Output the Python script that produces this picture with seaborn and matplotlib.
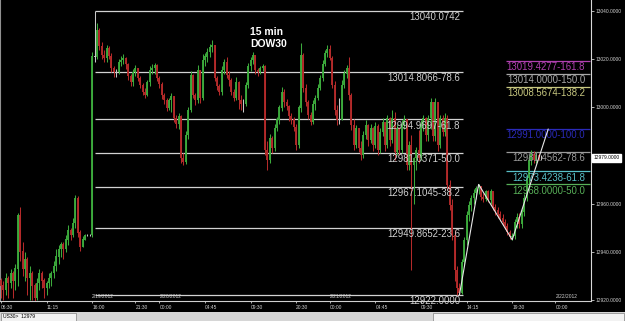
import numpy as np
import pandas as pd
import matplotlib
matplotlib.use("Agg")
import matplotlib.pyplot as plt
import matplotlib.transforms as mtransforms
from matplotlib.patches import Rectangle
import seaborn as sns

# ---------------- data ----------------
open0 = 12928.0
closes = [
    12926, 12924, 12929, 12927, 12931, 12928, 12933, 12955, 12940, 12933,
    12937, 12929, 12931, 12926, 12921, 12927, 12931, 12928, 12925, 12927,
    12929, 12931, 12934, 12938, 12941, 12943, 12941, 12945, 12949, 12947,
    12952, 12962, 12948, 12942, 12945, 12947, 12947, 12947, 13021, 13021,
    13032, 13025.5, 13021.7, 13020.5, 13024.6, 13021.3, 13016.3, 13014.7, 13014.7, 13018.8,
    13019.7, 13020.5, 13018, 13013, 13010.5, 13014.7, 13016.3, 13012.2, 13009.3, 13006.4,
    13005.1, 13010.5, 13015.5, 13016.3, 13017.6, 13012.2, 13009.7, 13005.1, 13003.1, 12999.8,
    13003.1, 13004.7, 12995.6, 12993.1, 12996.4, 12979, 12977.3, 12988.5, 12998.9, 13013.4,
    13005.1, 13003.1, 13015.5, 13004, 13019.7, 13021, 13023, 13025, 13025.9, 13012.2,
    13008.9, 13006.4, 13015.5, 13018.8, 13013.4, 13011.4, 13006.4, 13003.9, 13010.5, 13003.1,
    13001.4, 13001.4, 13009.3, 13017.2, 13019.7, 13021.7, 13015.5, 13014.7, 13016.3, 13017.2,
    12982.3, 12978.1, 12987.3, 12983.1, 12991.4, 12994.8, 12999.8, 13006.4, 13002.2, 13000.6,
    12996.4, 12994.8, 12991.8, 12984.4, 12999.8, 13021.7, 13008, 13002.2, 12996.8, 12993.9,
    13001.4, 13003.9, 13008, 13012.2, 13018, 13022.6, 13024.2, 13020.5, 13009.3, 12998.9,
    12994.8, 12994.8, 13009.3, 13013.9, 13016.3, 13005.1, 12992.7, 12984.4, 12991.4, 12983.1,
    12980.2, 12988.5, 12992.7, 12986.4, 12991.4, 12984.4, 12992.3, 12982.3, 12989.8, 12993.9,
    12984.4, 12995.6, 12986.4, 12995.6, 12981.5, 12991.4, 12982.3, 12993.1, 12994.8, 12976.1,
    12984.4, 12976.1, 12979, 12982.3, 12979, 12993.1, 12995.6, 12988.5, 12995.6, 13002.2,
    12988, 13002.2, 12984.4, 12995.6, 12989.8, 12995.6, 12967.8, 12959.5, 12947, 12932.5,
    12925, 12922.9, 12935.8, 12944.9, 12955.3, 12959.5, 12962.4, 12964.4, 12966.5, 12967.3,
    12962.8, 12962, 12964.9, 12961.5, 12964.9, 12958.6, 12957.4, 12955.7, 12954, 12952.4,
    12950.7, 12948.2, 12946.2, 12946.6, 12952.4, 12954.5, 12951.6, 12956.5, 12962.4, 12970.7,
    12978.1, 12980.6, 12978.1, 12980.2, 12979, 12979,
]
highs = [
    12929, 12928, 12931, 12930, 12933, 12932, 12935, 12956, 12958.5, 12944,
    12940, 12938, 12934, 12932, 12927, 12929, 12933, 12932, 12929, 12928,
    12931, 12932, 12936, 12941, 12943, 12944, 12944, 12947, 12951, 12950,
    12954, 12963.5, 12963, 12949, 12946.5, 12947.5, 12947.3, 12947.3, 13023, 13040.07,
    13035, 13033, 13027, 13024, 13026, 13025.5, 13022.5, 13017, 13016, 13020,
    13021.5, 13022, 13021, 13018.5, 13014, 13016, 13017.5, 13016.5, 13013, 13010,
    13008, 13011.5, 13017, 13018, 13018.4, 13018, 13013, 13010.5, 13006, 13004,
    13004, 13006, 13004.5, 12997, 12997.5, 12997, 12981, 12990, 13000, 13015,
    13014, 13006, 13017.5, 13014, 13022, 13022.5, 13024.5, 13026.5, 13028, 13025.5,
    13013, 13009.5, 13017, 13020, 13021, 13015, 13012, 13007.5, 13012.5, 13011,
    13005, 13003.5, 13010.5, 13018.5, 13021, 13023, 13021.5, 13016.5, 13017, 13018,
    13017.5, 12986, 12989, 12988, 12993, 12996, 13001, 13008.5, 13007.5, 13003.5,
    13001, 12997.5, 12996, 12993, 13001, 13026.7, 13022.5, 13009.5, 13003, 12998,
    13003, 13005, 13009.5, 13013.5, 13019.5, 13024, 13026, 13026, 13021.5, 13011,
    13001, 13004, 13011.4, 13015.5, 13017.5, 13021, 13006, 12995, 12992.7, 12990.6,
    12986, 12990, 12994.8, 12993, 12993, 12992, 12994, 12993, 12991.4, 12995.5,
    12994, 12997, 12996, 12998.9, 12998, 12993, 12992, 12994.8, 12996.8, 12995,
    12986, 12988.5, 12979.5, 12983.5, 12990.6, 12994.8, 12996.8, 12996, 12996.8, 13004,
    13002, 13003.7, 13000, 12996.8, 12997, 12997.5, 12996.8, 12970, 12962, 12949,
    12934, 12927, 12937, 12946, 12957, 12961, 12963.6, 12966, 12967.3, 12968,
    12967.5, 12964.5, 12965.7, 12965.5, 12966, 12965, 12960, 12958.5, 12957, 12955.5,
    12953.5, 12952, 12949, 12948, 12953.5, 12956, 12956, 12957.8, 12964, 12972,
    12980.2, 12982.3, 12982, 12981.5, 12981, 12980,
]
lows = [
    12921, 12920, 12922, 12921, 12925, 12921, 12924, 12926, 12936, 12930,
    12928, 12922, 12920, 12920, 12918.8, 12920, 12924, 12925, 12921, 12922,
    12925, 12926, 12929, 12932, 12935, 12938, 12937, 12940, 12943, 12945,
    12946, 12950, 12946, 12940.5, 12942, 12946.5, 12946.7, 12946.7, 12946, 13019,
    13020, 13024, 13020, 13019, 13019, 13020, 13014.5, 13012.5, 13012.5, 13014,
    13017, 13018, 13016, 13011.5, 13009, 13009, 13013, 13011, 13008, 13005,
    13003.9, 13004.5, 13009, 13014, 13014, 13011, 13008, 13003.5, 13001.5, 12998.5,
    12999, 12998, 12994, 12991.5, 12991, 12977, 12976, 12976.5, 12987, 12998,
    13004, 13001, 13002, 13002, 13003, 13017, 13019, 13021, 13023, 13011,
    13007, 13005, 13005, 13014, 13012, 13009, 13005, 13002.5, 13003, 12999.5,
    12999, 12998, 13000.5, 13008, 13015, 13018, 13014, 13013, 13014, 13015,
    12980, 12974, 12977, 12981, 12982, 12990, 12993, 12998.5, 13000, 12999,
    12994.5, 12993, 12990, 12982.3, 12983, 12998, 13006.5, 13000.5, 12995, 12992.7,
    12993, 12999, 13003, 13007, 13011, 13017, 13021, 13019.5, 13008, 12997,
    12992.7, 12993, 12996, 13008, 13012, 13003, 12990.5, 12982.3, 12983, 12981.5,
    12978, 12979, 12987, 12984, 12985, 12982, 12983, 12980, 12981, 12988,
    12982, 12983, 12984, 12985, 12978, 12980, 12980, 12981, 12991, 12974,
    12974, 12932.5, 12960, 12974, 12977, 12978, 12990, 12986, 12986, 12991,
    12986, 12986, 12982, 12983, 12988, 12988, 12965.7, 12957.4, 12944.9, 12928,
    12922, 12922.0, 12922.5, 12934, 12943, 12953, 12957, 12960, 12962, 12964,
    12961.5, 12960.5, 12961, 12960.5, 12960, 12957.4, 12955.3, 12954, 12953, 12951,
    12949.5, 12947, 12945.3, 12945.0, 12945.5, 12950, 12950, 12950, 12955, 12961,
    12968, 12976, 12977, 12977, 12978, 12978,
]

tick_bars = [0, 19, 38, 56, 66, 85, 104, 123, 137, 156, 175, 194, 213, 231]
tick_labels = ["06:30", "11:15", "16:00", "21:30", "00:00", "04:45", "09:30",
               "20:30", "00:00", "04:45", "09:30", "14:15", "19:30", "00:00"]
date_bars = [38, 66, 137, 231]
date_labels = ["2/19/2012", "2/20/2012", "2/21/2012", "2/22/2012"]

fib_levels = [13040.0742, 13014.8066, 12994.9697, 12981.0371, 12967.1045, 12949.8652, 12922.0]
fib_ratios = ["", "78.6", "61.8", "50.0", "38.2", "23.6", ""]

ext_levels = [13019.4277, 13014.0, 13008.5674, 12991.0, 12981.4562, 12973.4238, 12968.0]
ext_ratios = ["161.8", "150.0", "138.2", "100.0", "78.6", "61.8", "50.0"]
ext_colors = ["#b040b0", "#a8a8a8", "#c8c880", "#2a2ab8", "#9a9a9a", "#58c0c8", "#58b058"]

zz_bars = [191, 199, 213, 228]
zz_prices = [12922.0, 12968.0, 12945.0, 12991.0]

ytick_values = [12920, 12940, 12960, 12980, 13000, 13020, 13040]
current_price = 12979.0
symbol_text = "US30>  12979"

# ---------------- frame ----------------
n = len(closes)
opens = [open0] + closes[:-1]
df = pd.DataFrame({"bar": np.arange(n), "open": opens, "close": closes,
                   "high": highs[:n], "low": lows[:n]})
df["top"] = df[["open", "close"]].max(axis=1)
df["bot"] = df[["open", "close"]].min(axis=1)
df["high"] = np.maximum(df["high"], df["top"])
df["low"] = np.minimum(df["low"], df["bot"])
UP, DOWN, FLAT = "#3caa3c", "#b42a2a", "#c8c8c8"
df["color"] = np.where(df["close"] > df["open"], UP,
                       np.where(df["close"] < df["open"], DOWN, FLAT))

sns.set_theme(style="dark", rc={
    "axes.facecolor": "black", "figure.facecolor": "black",
    "axes.edgecolor": "#d0d0d0", "axes.grid": False,
    "xtick.color": "#d0d0d0", "ytick.color": "#d0d0d0",
})
LF = ["Liberation Sans", "DejaVu Sans"]

W, H = 625, 321
fig = plt.figure(figsize=(W / 100, H / 100), dpi=100)
ax = fig.add_axes([0, 20 / H, 591 / W, 301 / H])
ax.set_facecolor("black")

# candles
ax.vlines(df["bar"], df["low"], df["high"], colors=df["color"], lw=0.75, zorder=3)
ax.vlines(df["bar"], df["bot"], df["top"] + 0.15, colors=df["color"], lw=1.35, zorder=3)

# main fibonacci retracement
fib_x0, fib_x1, fib_lab = 39.2, 192.5, 191.3
ax.hlines(fib_levels, fib_x0, fib_x1, colors="#d2d2d2", lw=0.9, zorder=2)
for lv, r in zip(fib_levels, fib_ratios):
    txt = f"{lv:.4f}" + (f"-{r}" if r else "")
    ax.annotate(txt, xy=(fib_lab, lv), xytext=(0, -0.9), textcoords="offset points",
                ha="right", va="top", fontsize=6.9, family=LF, color="#cfcfcf",
                annotation_clip=False, zorder=4)

# fibonacci expansion
ext_x0, ext_x1, ext_lab = 210.4, 245.4, 243.4
for lv, r, c in zip(ext_levels, ext_ratios, ext_colors):
    ax.hlines(lv, ext_x0, ext_x1, colors=c, lw=0.9, zorder=2)
    ax.annotate(f"{lv:.4f}-{r}", xy=(ext_lab, lv), xytext=(0, -0.9),
                textcoords="offset points", ha="right", va="top", fontsize=6.9,
                family=LF, color=c, annotation_clip=False, zorder=4)

# zigzag pattern
zz = pd.DataFrame({"bar": zz_bars, "price": zz_prices})
sns.lineplot(data=zz, x="bar", y="price", sort=False, color="#e8e8e8", lw=0.8,
             ax=ax, zorder=5)

# axes
ax.set_xlim(-0.42, 245.83)
ax.set_ylim(12919.58, 13044.57)
ax.set_xlabel("")
ax.set_ylabel("")
ax.yaxis.tick_right()
ax.set_yticks(ytick_values)
ylabels = ["" if v == round(current_price, -1) else f"{v:.4f}" for v in ytick_values]
ax.set_yticklabels(ylabels, fontsize=3.5, family=LF, color="#d0d0d0")
ax.tick_params(axis="y", which="major", right=True, left=False, length=2.2, width=0.6,
               pad=1.4, colors="#d0d0d0")
ax.set_xticks(tick_bars)
ax.set_xticklabels(tick_labels, fontsize=3.5, family=LF, color="#d0d0d0")
for lbl in ax.get_xticklabels():
    lbl.set_ha("left")
ax.tick_params(axis="x", which="major", bottom=True, length=1.5, width=0.6, pad=1.5,
               colors="#d0d0d0")
ax.spines["top"].set_visible(False)
ax.spines["right"].set_color("#d8d8d8")
ax.spines["right"].set_linewidth(0.8)
ax.spines["bottom"].set_color("#d0d0d0")
ax.spines["bottom"].set_linewidth(0.8)
ax.spines["left"].set_color("#909090")
ax.spines["left"].set_linewidth(0.8)

# date labels
tr = mtransforms.blended_transform_factory(ax.transData, ax.transAxes)
for b, d in zip(date_bars, date_labels):
    ax.text(b, 0.006, d, transform=tr, ha="left", va="bottom", fontsize=3.5,
            family=LF, color="#d0d0d0", zorder=4)

# title
ax.text(250 / 591, 1 - 27 / 301, "15 min", transform=ax.transAxes, ha="left", va="top",
        fontsize=7.5, fontweight="bold", family=LF, color="white")
ax.text(250 / 591, 1 - 39 / 301, "DOW30", transform=ax.transAxes, ha="left", va="top",
        fontsize=7.5, fontweight="bold", family=LF, color="white")

# current price box
trp = mtransforms.blended_transform_factory(ax.transAxes, ax.transData)
ax.text(1.004, current_price, f"{current_price:.4f}", transform=trp, ha="left",
        va="center", fontsize=3.5, family=LF, color="black", zorder=6, clip_on=False,
        bbox=dict(boxstyle="square,pad=0.25", fc="white", ec="white"))

# status bar
fig.patches.append(Rectangle((0, 0), 1, 9.5 / H, transform=fig.transFigure,
                             fc="#d6d6d6", ec="none", zorder=0))
fig.patches.append(Rectangle((0.5 / W, 0.5 / H), 75 / W, 8 / H, transform=fig.transFigure,
                             fc="#f2f2f2", ec="#808080", lw=0.5, zorder=1))
fig.patches.append(Rectangle((433 / W, 0.5 / H), 191 / W, 8 / H, transform=fig.transFigure,
                             fc="#f2f2f2", ec="#808080", lw=0.5, zorder=1))
fig.text(3 / W, 4.5 / H, symbol_text, ha="left", va="center", fontsize=3.6, family=LF,
         color="black", zorder=2)

fig.savefig("out.png", dpi=100, facecolor="black")
